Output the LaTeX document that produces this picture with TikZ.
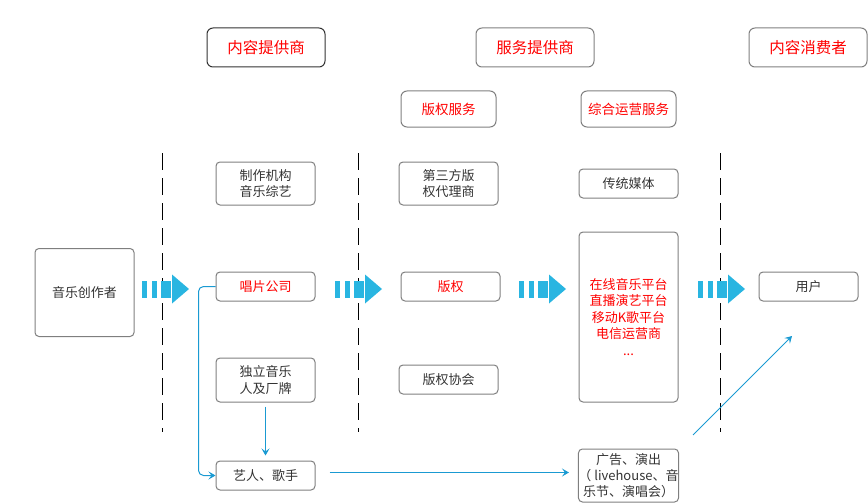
\documentclass[tikz,border=0pt]{standalone}
\usepackage{fontspec}
\setmainfont{Noto Sans CJK SC}
\usepackage{tikz}
\usetikzlibrary{positioning,arrows.meta}
\definecolor{boxgray}{HTML}{7F7F7F}
\definecolor{textgray}{HTML}{333333}
\definecolor{headred}{HTML}{FF0000}
\definecolor{flowblue}{HTML}{29B5E1}
\definecolor{lineblue}{HTML}{1A9AD2}
\newcommand{\bodysize}{\fontsize{13}{16.5}\selectfont}

\tikzset{
  card/.style={draw=boxgray, line width=1pt, rounded corners=4pt, align=center,
    inner sep=0pt, minimum width=99pt, text=textgray, font=\bodysize},
  headcard/.style={card, minimum width=118pt, minimum height=39pt, rounded corners=6pt,
    text=headred, font=\fontsize{15.5}{18}\selectfont},
  subcard/.style={card, minimum width=95pt, minimum height=36pt, rounded corners=6pt,
    text=headred, font=\fontsize{13.5}{16}\selectfont},
  divider/.style={line width=1pt, dash pattern=on 17pt off 8pt},
  flowline/.style={draw=lineblue, line width=1pt, -{Stealth[length=7pt,width=8pt,inset=3pt]}},
  pics/stripearrow/.style={code={
    \fill[flowblue] (0,-8.5) rectangle (5,8.5);
    \fill[flowblue] (10,-8.5) rectangle (15,8.5);
    \fill[flowblue] (19,-8.5) rectangle (29,8.5);
    \fill[flowblue] (30,-14.5) -- (47,0) -- (30,14.5) -- cycle;
  }}
}

\begin{document}
\begin{tikzpicture}[x=1pt,y=-1pt]
\useasboundingbox (0,0) rectangle (868,503);
%% dividing lines
\draw[divider] (162,153) -- (162,432);
\draw[divider] (358,153) -- (358,432);
\draw[divider] (720,153) -- (720,432);
%the headers
\node[headcard, draw=textgray] (contentHead) at (266,47.5) {内容提供商};
\node[headcard] (serviceHead) at (535,47.5) {服务提供商};
\node[headcard] (consumerHead) at (808,47.5) {内容消费者};
\node[subcard] (rightsHead) at (448.5,109) {版权服务};
\node[subcard] (operHead) at (628.5,109) {综合运营服务};
%the nodes
\node[card, minimum height=88pt] (composer) at (84.5,292.5) {音乐创作者};
\node[card, minimum height=43pt] (producer) at (265.5,183.5) {制作机构\\音乐综艺};
\node[card, minimum height=29pt, text=headred] (label) at (265.5,286.5) {唱片公司};
\node[card, minimum height=44pt] (indie) at (265.5,380) {独立音乐\\人及厂牌};
\node[card, minimum height=29pt] (artist) at (265.5,475.5) {艺人、歌手};
\node[card, minimum height=43pt] (agent) at (448.5,183.5) {第三方版\\权代理商};
\node[card, minimum height=29pt, text=headred] (rights) at (450.5,286.5) {版权};
\node[card, minimum height=29pt] (society) at (448.5,379.5) {版权协会};
\node[card, minimum height=29pt] (media) at (628.5,183.5) {传统媒体};
\node[card, minimum height=170pt, text=headred] (platform) at (628.5,317)
  {在线音乐平台\\直播演艺平台\\移动K歌平台\\电信运营商\\...};
\node[card, minimum height=53pt, font=\fontsize{13}{16.3}\selectfont] (ad) at (628.5,475.5)
  {广告、演出\\（ livehouse、音\\乐节、演唱会）};
\node[card, minimum height=29pt] (user) at (808.5,286.5) {用户};
%block arrows
\pic at (142,289) {stripearrow};
\pic at (335,289) {stripearrow};
\pic at (519,289) {stripearrow};
\pic at (698,289) {stripearrow};
%drawings of lines
\draw[flowline, rounded corners=5pt] (label.west) -- ++(-17,0) |- (artist.west);
\draw[flowline, shorten <=4pt, shorten >=5pt] (indie.south) -- (artist.north);
\draw[flowline, shorten <=14pt, shorten >=9pt] ([yshift=3pt]artist.east) -- ([yshift=3pt]ad.west);
\coordinate (adOut) at (693,435);
\coordinate (userIn) at (792,336);
\draw[flowline, line width=0.8pt] (adOut) -- (userIn);
\end{tikzpicture}
\end{document}
